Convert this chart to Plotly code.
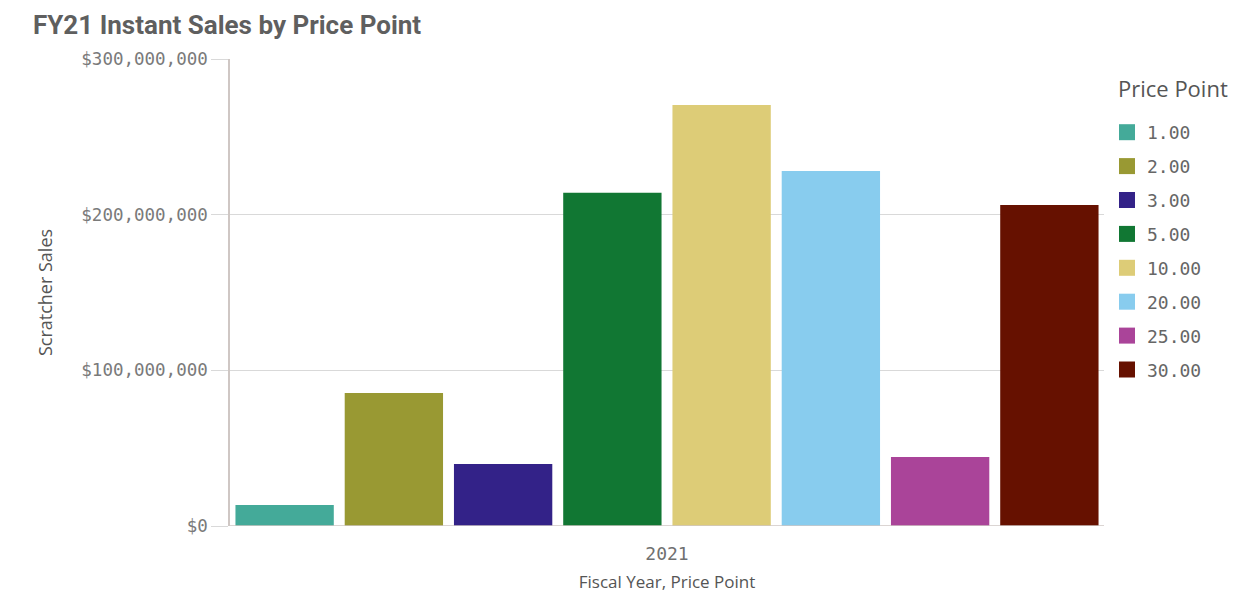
import plotly.graph_objects as go

title = "FY21 Instant Sales by Price Point"
year = ["2021"]
price_points = ["1.00", "2.00", "3.00", "5.00", "10.00", "20.00", "25.00", "30.00"]
sales = [13.5e6, 85.4e6, 39.8e6, 214e6, 270.4e6, 228e6, 44.3e6, 206.2e6]
colors = ["#44AA99", "#999933", "#332288", "#117733", "#DDCC77", "#88CCEE", "#AA4499", "#661100"]
y_ticks = [0, 100e6, 200e6, 300e6]
y_tick_text = ["$0", "$100,000,000", "$200,000,000", "$300,000,000"]

mono = "DejaVu Sans Mono"
sans = "Open Sans"

# page body has an 8px margin, figure drawn 8px right/down of the window corner
W, H = 1225, 586
L, R, T, B = 222, 129, 51, 68
PW, PH = W - L - R, H - T - B

fig = go.Figure()
for pp, v, c in zip(price_points, sales, colors):
    fig.add_trace(go.Bar(
        x=year, y=[v], name=pp, marker=dict(color=c, line=dict(width=0)),
        legendgroup=pp, showlegend=False,
    ))
    # legend entry with a larger square swatch
    fig.add_trace(go.Scatter(
        x=[None], y=[None], mode="markers", name=pp, legendgroup=pp,
        marker=dict(symbol="square", size=16, color=c, line=dict(width=0)),
        hoverinfo="skip",
    ))

fig.update_layout(
    width=W, height=H,
    paper_bgcolor="white", plot_bgcolor="white",
    margin=dict(l=L, r=R, t=T, b=B, autoexpand=False),
    barmode="group", bargap=0.0, bargroupgap=0.1,
    title=dict(text=title, x=25 / W, xanchor="left", y=1 - 17 / H, yanchor="middle",
               font=dict(family="Roboto", size=26, color="#5f5f5f", weight="bold")),
    showlegend=True,
    legend=dict(
        font=dict(family=mono, size=18, color="#666666"),
        xref="container", yref="container", x=1099 / W, xanchor="left",
        y=1 - 106 / H, yanchor="top", itemsizing="trace",
        tracegroupgap=7.5, traceorder="grouped",
    ),
    xaxis=dict(
        automargin=False,
        showgrid=False, showline=False, ticks="outside", ticklen=11,
        tickcolor="rgba(0,0,0,0)",
        tickfont=dict(family=mono, size=18, color="#707070"),
        title=dict(text="Fiscal Year, Price Point", font=dict(family=sans, size=17, color="#555555"), standoff=13),
    ),
    yaxis=dict(
        automargin=False,
        range=[0, 300e6], tickvals=y_ticks, ticktext=y_tick_text,
        showgrid=True, gridcolor="#d9d9d9", gridwidth=1,
        showline=True, linecolor="#cfc7c4", linewidth=1.5,
        ticks="outside", ticklen=17, tickcolor="#d9d9d9",
        zeroline=False,
        tickfont=dict(family=mono, size=17.5, color="#7a7a7a"),
        title=dict(text="Scratcher Sales", font=dict(family=sans, size=18, color="#555555"), standoff=24),
    ),
    annotations=[dict(
        text="Price Point", xref="paper", yref="paper",
        x=(1108 - L) / PW, y=1 - (80 - T) / PH,
        xanchor="left", yanchor="middle", showarrow=False,
        font=dict(family=sans, size=22, color="#555555"),
    )],
)
fig.add_hline(y=0, line=dict(color="#cfc7c4", width=1.5))

fig.write_html("out.html")
